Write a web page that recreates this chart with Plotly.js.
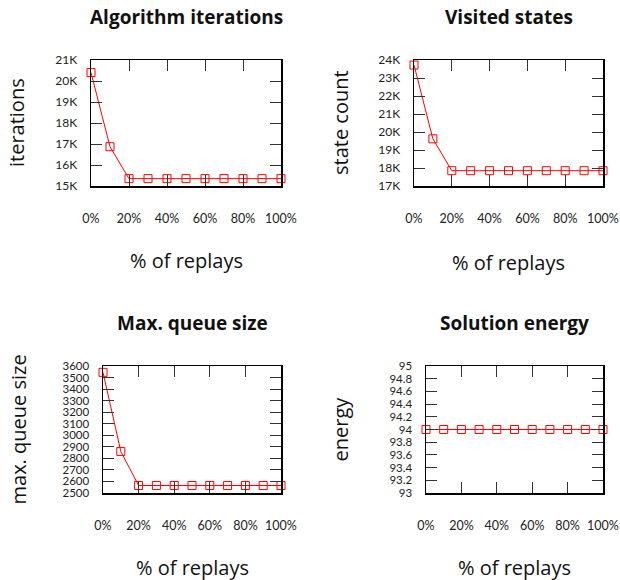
<!DOCTYPE html>
<html>
<head>
<meta charset="utf-8">
<script src="https://cdn.plot.ly/plotly-3.0.1.min.js"></script>
<style>html,body{margin:0;padding:0;background:#fff;}#chart{width:620px;height:580px;}</style>
</head>
<body>
<div id="chart"></div>
<script>
// Data
const replays = [0, 10, 20, 30, 40, 50, 60, 70, 80, 90, 100];
const iterations = [20400, 16870, 15350, 15350, 15350, 15350, 15350, 15350, 15350, 15350, 15350];
const visitedStates = [23720, 19620, 17850, 17850, 17850, 17850, 17850, 17850, 17850, 17850, 17850];
const maxQueue = [3545, 2860, 2565, 2565, 2565, 2565, 2565, 2565, 2565, 2565, 2565];
const energy = [94, 94, 94, 94, 94, 94, 94, 94, 94, 94, 94];

const xTickVals = [0, 20, 40, 60, 80, 100];
const xTickText = ["0%", "20%", "40%", "60%", "80%", "100%"];

const itTickVals = [15000, 16000, 17000, 18000, 19000, 20000, 21000];
const itTickText = ["15K", "16K", "17K", "18K", "19K", "20K", "21K"];
const stTickVals = [17000, 18000, 19000, 20000, 21000, 22000, 23000, 24000];
const stTickText = ["17K", "18K", "19K", "20K", "21K", "22K", "23K", "24K"];
const qTickVals = [2500, 2600, 2700, 2800, 2900, 3000, 3100, 3200, 3300, 3400, 3500, 3600];
const qTickText = ["2500", "2600", "2700", "2800", "2900", "3000", "3100", "3200", "3300", "3400", "3500", "3600"];
const eTickVals = [93, 93.2, 93.4, 93.6, 93.8, 94, 94.2, 94.4, 94.6, 94.8, 95];
const eTickText = ["93", "93.2", "93.4", "93.6", "93.8", "94", "94.2", "94.4", "94.6", "94.8", "95"];

const panelTitles = ["Algorithm iterations", "Visited states", "Max. queue size", "Solution energy"];
const yTitles = ["iterations", "state count", "max. queue size", "energy"];
const xTitle = "% of replays";

const W = 620, H = 580;
const FONT = "'Open Sans', Lato, sans-serif";
const TICKFONT = "Lato, 'Open Sans', sans-serif";
const RED = "#ff0000";

// panel boxes in px: [x0, x1, y0, y1]
const boxes = [
  [91, 281, 60, 186],
  [414, 603, 60, 186],
  [103, 281, 366, 493],
  [426, 603, 366, 493]
];
const series = [iterations, visitedStates, maxQueue, energy];
const ranges = [[15000, 21000], [17000, 24000], [2500, 3600], [93, 95]];
const yTicks = [[itTickVals, itTickText], [stTickVals, stTickText], [qTickVals, qTickText], [eTickVals, eTickText]];
const yTickSize = [12, 12, 11.5, 11.5];
const titleY = [17, 17, 323, 323];
const yTitleX = [16, 340, 18, 340];
const xTitleY = [260, 262, 567, 567];

const data = [];
const layout = {
  width: W, height: H,
  margin: {l: 0, r: 0, t: 0, b: 0},
  paper_bgcolor: "#fff", plot_bgcolor: "#fff",
  showlegend: false,
  font: {family: FONT, color: "#222"},
  annotations: []
};

boxes.forEach((b, i) => {
  const n = i + 1;
  const xa = n === 1 ? "xaxis" : "xaxis" + n;
  const ya = n === 1 ? "yaxis" : "yaxis" + n;
  data.push({
    x: replays, y: series[i],
    xaxis: "x" + (n === 1 ? "" : n), yaxis: "y" + (n === 1 ? "" : n),
    type: "scatter", mode: "lines+markers",
    line: {color: RED, width: 1},
    marker: {symbol: "square-open", size: 8, color: RED, line: {width: 1, color: RED}},
    cliponaxis: false,
    hoverinfo: "skip"
  });
  const common = {
    showline: true, linecolor: "#000", linewidth: 1.5, mirror: "allticks",
    ticks: "inside", ticklen: 11, tickwidth: 1, tickcolor: "#333",
    showgrid: false, zeroline: false, fixedrange: true
  };
  layout[xa] = Object.assign({}, common, {
    domain: [b[0] / W, b[1] / W],
    anchor: "y" + (n === 1 ? "" : n),
    range: [0, 100],
    tickmode: "array", tickvals: xTickVals, ticktext: xTickText,
    ticklabelstandoff: 20,
    tickfont: {family: TICKFONT, size: 12.5, color: "#222"}
  });
  layout[ya] = Object.assign({}, common, {
    domain: [1 - b[3] / H, 1 - b[2] / H],
    anchor: "x" + (n === 1 ? "" : n),
    range: ranges[i],
    tickmode: "array", tickvals: yTicks[i][0], ticktext: yTicks[i][1],
    ticklabelstandoff: 10,
    tickfont: {family: TICKFONT, size: yTickSize[i], color: "#222"}
  });
  const cx = (b[0] + b[1]) / 2 / W;
  const cy = 1 - (b[2] + b[3]) / 2 / H;
  layout.annotations.push({
    text: "<b>" + panelTitles[i] + "</b>", xref: "paper", yref: "paper",
    x: cx, y: 1 - titleY[i] / H, xanchor: "center", yanchor: "middle",
    showarrow: false, font: {family: FONT, size: 19, color: "#111"}
  });
  layout.annotations.push({
    text: yTitles[i], xref: "paper", yref: "paper", textangle: -90,
    x: yTitleX[i] / W, y: cy, xanchor: "center", yanchor: "middle",
    showarrow: false, font: {family: FONT, size: 20, color: "#111"}
  });
  layout.annotations.push({
    text: xTitle, xref: "paper", yref: "paper",
    x: cx, y: 1 - xTitleY[i] / H, xanchor: "center", yanchor: "middle",
    showarrow: false, font: {family: FONT, size: 20, color: "#111"}
  });
});

Plotly.newPlot("chart", data, layout, {staticPlot: true, displayModeBar: false});
</script>
</body>
</html>
